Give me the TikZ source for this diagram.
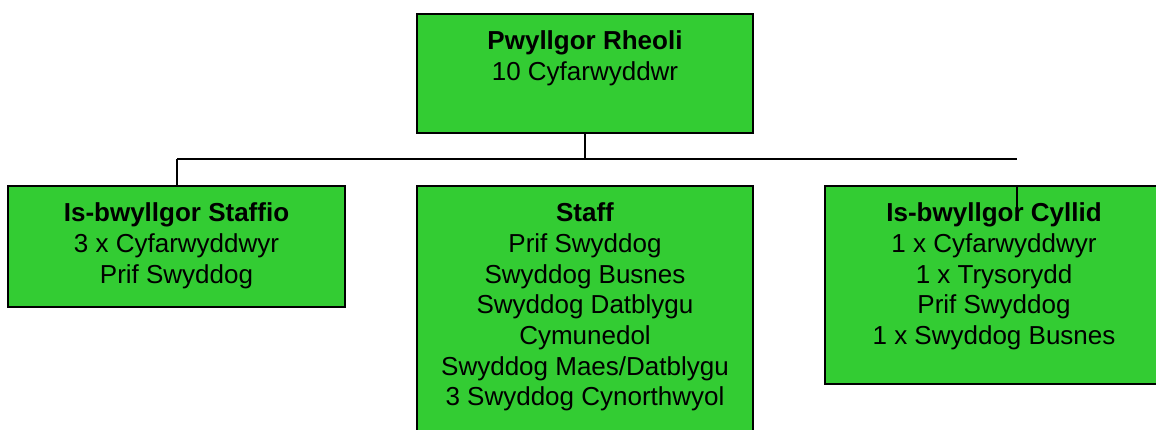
\documentclass[tikz,border=0pt]{standalone}
\usepackage{fontspec}
\setmainfont{Liberation Sans}
\definecolor{boxgreen}{RGB}{51,204,51}
\begin{document}
\begin{tikzpicture}[x=1pt,y=-1pt,
  box/.style={draw=black,line width=2pt,fill=boxgreen,anchor=north west,inner sep=0pt,outer sep=0pt},
  txt/.style={align=center,font=\fontsize{26}{30.7}\selectfont,inner sep=0pt,anchor=north},
  conn/.style={line width=2pt}]
\useasboundingbox (0,0) rectangle (1156,430);
\clip (0,0) rectangle (1156,430);
\node[box,minimum width=336pt,minimum height=119pt] (top) at (417,14) {};
\node[box,minimum width=337pt,minimum height=121pt] (staffio) at (8,186) {};
\node[box,minimum width=336pt,minimum height=270pt] (staff) at (417,186) {};
\node[box,minimum width=338pt,minimum height=198pt] (cyllid) at (825,186) {};
\node[txt] (topt) at ([yshift=-14pt]top.north) {\strut\textbf{Pwyllgor Rheoli}\\10 Cyfarwyddwr};
\node[txt] (staffiot) at ([yshift=-14pt]staffio.north) {\strut\textbf{Is-bwyllgor Staffio}\\3 x Cyfarwyddwyr\\Prif Swyddog};
\node[txt] (stafft) at ([yshift=-14pt]staff.north) {\strut\textbf{Staff}\\Prif Swyddog\\Swyddog Busnes\\Swyddog Datblygu\\Cymunedol\\Swyddog Maes/Datblygu\\3 Swyddog Cynorthwyol};
\node[txt] (cyllidt) at ([yshift=-14pt]cyllid.north) {\strut\textbf{Is-bwyllgor Cyllid}\\1 x Cyfarwyddwyr\\1 x Trysorydd\\Prif Swyddog\\1 x Swyddog Busnes};
\coordinate (jc) at (585,159);
\coordinate (jl) at (177,159);
\coordinate (jr) at (1017,159);
\draw[conn] (top.south) -- (top.south |- jc);
\draw[conn] (jl) -- (jr);
\draw[conn] (jl) -- (jl |- staffio.north);
\draw[line width=1.3pt] (jr |- cyllid.north) -- ++(0,26);
\end{tikzpicture}
\end{document}
